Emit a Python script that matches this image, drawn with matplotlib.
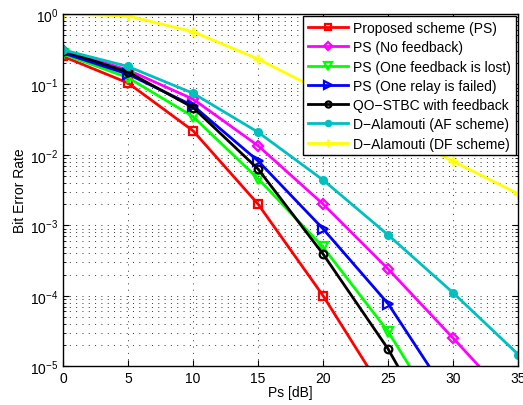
import matplotlib
matplotlib.use("Agg")
import matplotlib.pyplot as plt
from matplotlib.ticker import LogLocator, NullFormatter

plt.rcParams['font.family'] = ['Liberation Sans', 'DejaVu Sans']

ps_db = [0, 5, 10, 15, 20, 25, 30, 35]

ber_ps = [0.25, 0.105, 0.022, 0.002, 1.0e-4, 3.4e-6]
ber_nofb = [0.31, 0.16, 0.062, 0.0135, 0.0020, 2.4e-4, 2.5e-5, 2.5e-6]
ber_lost = [0.27, 0.125, 0.035, 0.0046, 4.9e-4, 3.1e-5, 1.0e-6]
ber_relay = [0.28, 0.14, 0.05, 0.0082, 8.9e-4, 7.7e-5, 3.0e-6]
ber_qo = [0.30, 0.15, 0.047, 0.0063, 3.9e-4, 1.75e-5, 4.0e-7]
ber_af = [0.31, 0.18, 0.075, 0.021, 0.0044, 7.3e-4, 1.1e-4, 1.47e-5]
ber_df = [1.0, 0.94, 0.56, 0.23, 0.078, 0.025, 0.0081, 0.0028]

labels = ["Proposed scheme (PS)", "PS (No feedback)", "PS (One feedback is lost)",
          "PS (One relay is failed)", "QO\u2212STBC with feedback",
          "D\u2212Alamouti (AF scheme)", "D\u2212Alamouti (DF scheme)"]

fig = plt.figure(figsize=(5.23, 4.06), dpi=100)
ax = fig.add_axes([0.1205, 0.0953, 0.8705, 0.8677])

lw = 2.0
ms = 5.5
ax.plot(ps_db[:len(ber_ps)], ber_ps, color='#ff0000', lw=lw, marker='s', ms=ms,
        mfc='none', mew=1.6, label=labels[0])
ax.plot(ps_db[:len(ber_nofb)], ber_nofb, color='#ff00ff', lw=lw, marker='D', ms=ms,
        mfc='none', mew=1.6, label=labels[1])
ax.plot(ps_db[:len(ber_lost)], ber_lost, color='#00ff00', lw=lw, marker='v', ms=ms + 1,
        mfc='none', mew=1.6, label=labels[2])
ax.plot(ps_db[:len(ber_relay)], ber_relay, color='#0000ff', lw=lw, marker='>', ms=ms + 1,
        mfc='none', mew=1.6, label=labels[3])
ax.plot(ps_db[:len(ber_qo)], ber_qo, color='#000000', lw=lw, marker='o', ms=ms,
        mfc='none', mew=1.6, label=labels[4])
ax.plot(ps_db[:len(ber_af)], ber_af, color='#00bfbf', lw=lw, marker='o', ms=ms,
        mfc='#00bfbf', mew=1, label=labels[5])
ax.plot(ps_db[:len(ber_df)], ber_df, color='#ffff00', lw=lw, marker='+', ms=ms + 1.5,
        mew=1.8, label=labels[6])

ax.set_yscale('log')
ax.set_xlim(0, 35)
ax.set_ylim(1e-5, 1)
ax.set_xticks([0, 5, 10, 15, 20, 25, 30, 35])
ax.yaxis.set_major_locator(LogLocator(base=10, numticks=10))
ax.yaxis.set_minor_locator(LogLocator(base=10, subs=range(2, 10), numticks=10))
ax.yaxis.set_minor_formatter(NullFormatter())

grid_style = dict(linestyle=(0, (1, 5.5)), color='#333333', lw=0.7)
ax.grid(True, which='major', axis='both', **grid_style)
ax.grid(True, which='minor', axis='y', **grid_style)
ax.set_axisbelow(True)
ax.tick_params(axis='both', which='both', direction='in', labelsize=10, top=True, right=True)
ax.tick_params(which='major', length=4)
ax.tick_params(which='minor', length=2)
for s in ax.spines.values():
    s.set_linewidth(1.0)

ax.set_xlabel('Ps [dB]', fontsize=10, labelpad=0)
ax.set_ylabel('Bit Error Rate', fontsize=10, labelpad=2)

leg = ax.legend(loc='upper right', fontsize=10, frameon=True, fancybox=False,
                edgecolor='black', framealpha=1, borderpad=0.35, labelspacing=0.38,
                handlelength=2.9, handletextpad=0.4, borderaxespad=0.15,
                markerscale=0.8)
leg.get_frame().set_linewidth(1.0)

fig.savefig('out.png', dpi=100)
